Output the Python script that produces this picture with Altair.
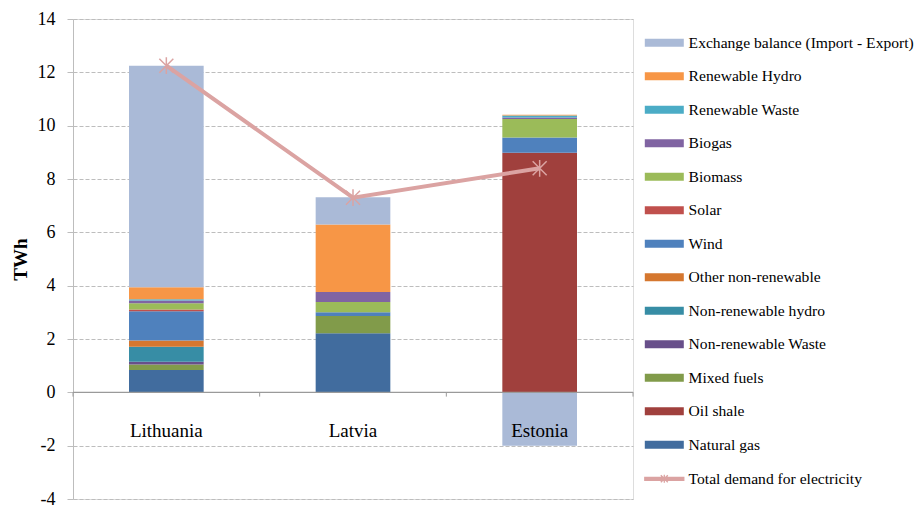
import altair as alt
import pandas as pd

countries = ["Lithuania", "Latvia", "Estonia"]

# Generation sources, from the bottom of each stack upwards
sources = [
    "Natural gas", "Oil shale", "Mixed fuels", "Non-renewable Waste",
    "Non-renewable hydro", "Other non-renewable", "Wind", "Solar",
    "Biomass", "Biogas", "Renewable Waste", "Renewable Hydro",
    "Exchange balance (Import - Export)",
]
colors = [
    "#416C9E", "#A0403D", "#819B4A", "#684F8A",
    "#378DA5", "#D5772F", "#4F81BD", "#C0504D",
    "#9BBB59", "#8064A2", "#4BACC6", "#F79646",
    "#AABAD7",
]

# TWh per country (Lithuania, Latvia, Estonia)
natural_gas = [0.84, 2.22, 0.00]
oil_shale = [0.00, 0.00, 8.98]
mixed_fuels = [0.20, 0.64, 0.00]
nonren_waste = [0.11, 0.00, 0.00]
nonren_hydro = [0.56, 0.00, 0.00]
other_nonren = [0.23, 0.00, 0.00]
wind = [1.10, 0.14, 0.58]
solar = [0.07, 0.00, 0.00]
biomass = [0.23, 0.39, 0.69]
biogas = [0.10, 0.37, 0.06]
ren_waste = [0.05, 0.00, 0.07]
ren_hydro = [0.45, 2.53, 0.03]
exchange = [8.31, 1.03, -2.00]

demand = [12.25, 7.30, 8.40]
demand_label = "Total demand for electricity"

series = [natural_gas, oil_shale, mixed_fuels, nonren_waste, nonren_hydro,
          other_nonren, wind, solar, biomass, biogas, ren_waste, ren_hydro,
          exchange]

rows = []
for k, (name, vals) in enumerate(zip(sources, series)):
    for i, c in enumerate(countries):
        if vals[i] != 0:
            rows.append({"country": c, "idx": i, "source": name,
                         "order": k, "value": vals[i]})
bar_df = pd.DataFrame(rows)

line_df = pd.DataFrame({"country": countries, "idx": range(len(countries)),
                        "demand": demand, "label": demand_label})
lab_df = pd.DataFrame({"country": countries, "idx": range(len(countries))})
edge_df = pd.DataFrame({"edge": range(len(countries) + 1)})
zero_df = pd.DataFrame({"zero": [0]})

FONT = "Liberation Serif"
PINK = "#DBA3A2"
LEGEND_FS = 15.6
xscale = alt.Scale(domain=[0, len(countries)], nice=False, zero=False)
yscale = alt.Scale(domain=[-4, 14], nice=False)

bars = alt.Chart(bar_df).transform_stack(
    stack="value", groupby=["country"], as_=["y0", "y1"],
    sort=[alt.SortField("order", order="ascending")],
).transform_calculate(
    xa="datum.idx + 0.3", xb="datum.idx + 0.7"
).mark_bar().encode(
    x=alt.X("xa:Q", scale=xscale, axis=None),
    x2="xb:Q",
    y=alt.Y("y0:Q", scale=yscale, axis=alt.Axis(
        title="TWh", values=list(range(-4, 15, 2)),
        labelExpr="datum.value < 0 ? '-' + abs(datum.value) : '' + datum.value",
        grid=True, gridDash=[4, 2], gridColor="#BDBDBD",
        domainColor="#BDBDBD", tickColor="#BDBDBD", tickSize=6,
        labelFont=FONT, labelFontSize=18, labelColor="#000000",
        labelPadding=12, titleFont=FONT, titleFontSize=19,
        titleFontWeight="bold", titleColor="#000000", titlePadding=7,
    )),
    y2="y1:Q",
    color=alt.Color("source:N", scale=alt.Scale(domain=sources[::-1], range=colors[::-1]),
                    legend=alt.Legend(
                        title=None, orient="none", legendX=569, legendY=16,
                        symbolType="M-3.9,-0.8H3.9V0.8H-3.9Z", symbolSize=100,
                        symbolStrokeWidth=0, symbolOffset=14.5, labelOffset=16.5,
                        labelFont=FONT, labelFontSize=LEGEND_FS, labelColor="#000000",
                        rowPadding=16.5, labelLimit=300,
                    )),
)

zero_rule = alt.Chart(zero_df).mark_rule(color="#9A9A9A", strokeWidth=1.2).encode(
    y=alt.Y("zero:Q", scale=yscale)
)

edge_ticks = alt.Chart(edge_df).transform_calculate(
    top="0", bottom="-0.16"
).mark_rule(color="#9A9A9A").encode(
    x=alt.X("edge:Q", scale=xscale),
    y=alt.Y("top:Q", scale=yscale),
    y2="bottom:Q",
)

labels = alt.Chart(lab_df).transform_calculate(
    xc="datum.idx + 0.5", ly="-1.45"
).mark_text(font=FONT, fontSize=19, color="#000000", baseline="middle").encode(
    x=alt.X("xc:Q", scale=xscale),
    y=alt.Y("ly:Q", scale=yscale),
    text="country:N",
)

line = alt.Chart(line_df).transform_calculate(
    xc="datum.idx + 0.5"
).mark_line(strokeWidth=4).encode(
    x=alt.X("xc:Q", scale=xscale),
    y=alt.Y("demand:Q", scale=yscale),
    stroke=alt.Stroke("label:N", scale=alt.Scale(range=[PINK]), legend=alt.Legend(
        title=None, orient="none", legendX=569, legendY=452,
        symbolType="M-3.9,-0.3H3.9V0.3H-3.9ZM-0.7,-0.7L0.7,0.7M-0.7,0.7L0.7,-0.7M0,-0.8V0.8",
        symbolSize=100, symbolStrokeWidth=1.3, symbolFillColor=PINK,
        symbolOffset=14.5, labelOffset=16.5,
        labelFont=FONT, labelFontSize=LEGEND_FS, labelColor="#000000", labelLimit=300,
    )),
)

stars = alt.Chart(line_df).transform_calculate(
    xc="datum.idx + 0.5"
).mark_point(
    shape="M-1,-1L1,1M-1,1L1,-1M0,-1.2V1.2", filled=False, size=196,
    strokeWidth=1.5, color=PINK, opacity=1,
).encode(
    x=alt.X("xc:Q", scale=xscale),
    y=alt.Y("demand:Q", scale=yscale),
)

chart = alt.layer(bars, zero_rule, edge_ticks, labels, line, stars).properties(
    width=560, height=480,
    autosize=alt.AutoSizeParams(type="none"),
    padding={"left": 73, "top": 19, "right": 283, "bottom": 6},
).configure_view(stroke="#BDBDBD", strokeWidth=1).configure(background="#FFFFFF")

chart.save("out.html", embed_options={"renderer": "svg", "actions": False})
